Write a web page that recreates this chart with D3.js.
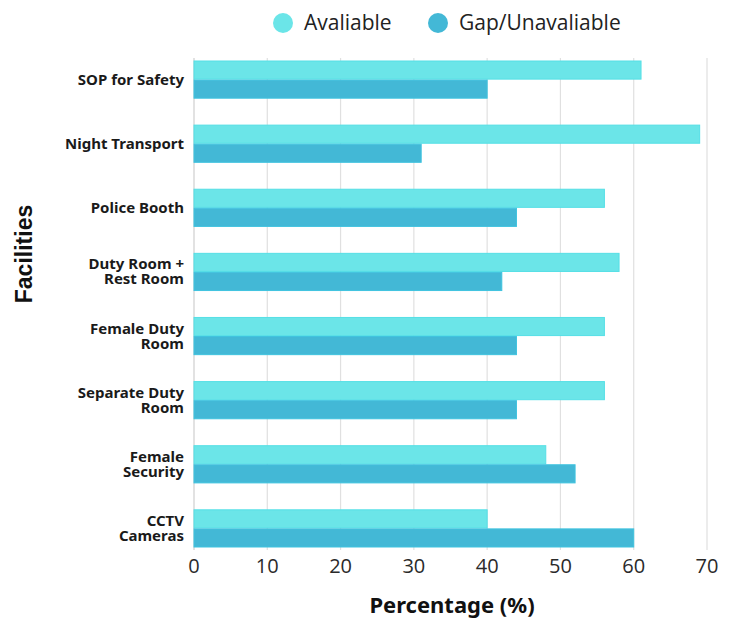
<!DOCTYPE html>
<html>
<head>
<meta charset="utf-8">
<script src="https://cdn.jsdelivr.net/npm/d3@7"></script>
<style>
  body { margin: 0; background: #fff; }
</style>
</head>
<body>
<div id="chart"></div>
<script>
// facility names, top to bottom (each entry is the list of label lines)
var facilities = [
  ['SOP for Safety'],
  ['Night Transport'],
  ['Police Booth'],
  ['Duty Room +', 'Rest Room'],
  ['Female Duty', 'Room'],
  ['Separate Duty', 'Room'],
  ['Female', 'Security'],
  ['CCTV', 'Cameras']
];
var available = [61, 69, 56, 58, 56, 56, 48, 40];
var gap = [40, 31, 44, 42, 44, 44, 52, 60];
var seriesNames = ['Avaliable', 'Gap/Unavaliable'];
var xTicks = [0, 10, 20, 30, 40, 50, 60, 70];

var W = 750, H = 635;
var colors = ['#6be5e8', '#43b8d6'];
var strokes = ['#55dfe6', '#3fc3df'];

var svg = d3.select('#chart').append('svg')
  .attr('width', W)
  .attr('height', H);

var x = d3.scaleLinear().domain([0, 70]).range([194, 707]);
var keys = facilities.map(function(d){ return d.join(' '); });
var y = d3.scaleBand().domain(keys).range([61, 547]).paddingInner(0.42).paddingOuter(0);
var ySub = d3.scaleBand().domain([0, 1]).range([0, y.bandwidth()]).paddingInner(0.05);

// gridlines
svg.append('g').selectAll('line')
  .data(xTicks)
  .enter().append('line')
  .attr('x1', function(d){ return x(d); })
  .attr('x2', function(d){ return x(d); })
  .attr('y1', 58)
  .attr('y2', 550)
  .style('stroke', function(d){ return d === 0 ? '#cfcfcf' : '#e0e0e0'; })
  .style('stroke-width', 1.2);

// bars
var rows = keys.map(function(k, i){ return { key: k, vals: [available[i], gap[i]] }; });
var groups = svg.append('g').selectAll('g')
  .data(rows)
  .enter().append('g')
  .attr('transform', function(d){ return 'translate(0,' + y(d.key) + ')'; });

groups.selectAll('rect')
  .data(function(d){ return d.vals; })
  .enter().append('rect')
  .attr('x', x(0))
  .attr('y', function(d, i){ return ySub(i); })
  .attr('width', function(d){ return x(d) - x(0); })
  .attr('height', ySub.bandwidth())
  .style('fill', function(d, i){ return colors[i]; })
  .style('stroke', function(d, i){ return strokes[i]; })
  .style('stroke-width', 1);

// category labels
facilities.forEach(function(lines, i){
  var cy = y(keys[i]) + y.bandwidth() / 2;
  var lh = 15;
  var t = svg.append('text')
    .attr('text-anchor', 'end')
    .attr('font-family', '"Noto Sans", sans-serif')
    .attr('font-weight', 700)
    .attr('font-size', 15)
    .style('fill', '#1a1a1a');
  lines.forEach(function(line, j){
    t.append('tspan')
      .attr('x', 184)
      .attr('y', cy + (j - (lines.length - 1) / 2) * lh + 5)
      .text(line);
  });
});

// x tick labels
svg.append('g').selectAll('text')
  .data(xTicks)
  .enter().append('text')
  .attr('x', function(d){ return x(d); })
  .attr('y', 573)
  .attr('text-anchor', 'middle')
  .attr('font-family', '"Open Sans", sans-serif')
  .attr('font-size', 20)
  .style('fill', '#2a2a2a')
  .text(function(d){ return d; });

// axis titles
svg.append('text')
  .attr('x', 452)
  .attr('y', 613)
  .attr('text-anchor', 'middle')
  .attr('font-family', '"Noto Sans", sans-serif')
  .attr('font-weight', 700)
  .attr('font-size', 22)
  .style('fill', '#111')
  .text('Percentage (%)');

svg.append('text')
  .attr('transform', 'translate(32,254) rotate(-90)')
  .attr('text-anchor', 'middle')
  .attr('font-family', '"Liberation Sans", Arial, sans-serif')
  .attr('font-weight', 700)
  .attr('font-size', 23)
  .style('fill', '#111')
  .text('Facilities');

// legend
var legendX = [283, 438];
seriesNames.forEach(function(name, i){
  svg.append('circle')
    .attr('cx', legendX[i])
    .attr('cy', 23)
    .attr('r', 10)
    .style('fill', colors[i]);
  svg.append('text')
    .attr('x', legendX[i] + 21)
    .attr('y', 30)
    .attr('font-family', '"Open Sans", sans-serif')
    .attr('font-size', 21)
    .style('fill', '#222')
    .text(name);
});
</script>
</body>
</html>
